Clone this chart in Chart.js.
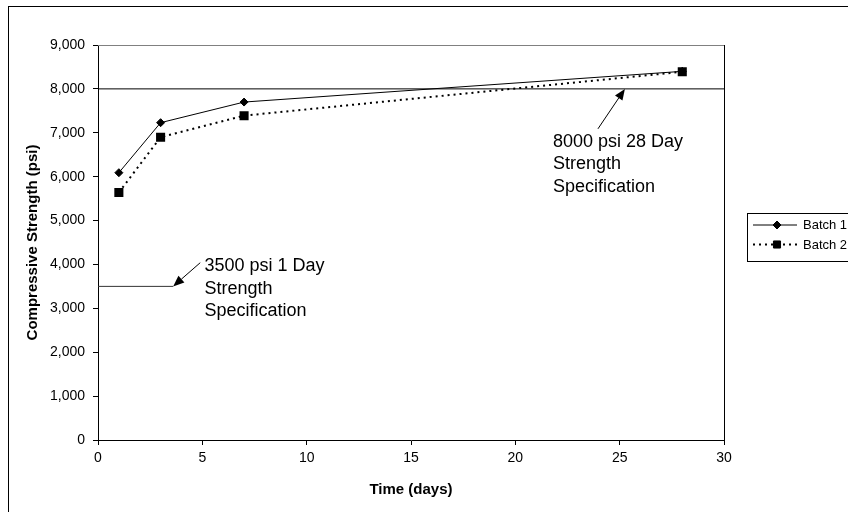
<!DOCTYPE html>
<html>
<head>
<meta charset="utf-8">
<script src="https://cdn.jsdelivr.net/npm/chart.js@4/dist/chart.umd.min.js"></script>
<style>
  html, body { margin: 0; padding: 0; background: #fff; }
  #wrap { width: 848px; height: 512px; position: relative; }
</style>
</head>
<body>
<div id="wrap"><canvas id="c" width="848" height="512"></canvas></div>
<script>
// ---- Data ----
const days = [1, 3, 7, 28];
const batch1 = [6090, 7230, 7700, 8400];
const batch2 = [5640, 6900, 7390, 8390];
const seriesNames = ['Batch 1', 'Batch 2'];
const xTicks = [0, 5, 10, 15, 20, 25, 30];
const yTicks = [0, 1000, 2000, 3000, 4000, 5000, 6000, 7000, 8000, 9000];
const spec1DayX = [0, 3.6];
const spec1DayY = [3500, 3500];
const spec28DayX = [0, 30];
const spec28DayY = [8000, 8000];
const spec1DayText = ['3500 psi 1 Day', 'Strength', 'Specification'];
const spec28DayText = ['8000 psi 28 Day', 'Strength', 'Specification'];

const FONT = "'Liberation Sans', Arial, sans-serif";

function pts(xs, ys) { return xs.map((x, i) => ({ x: x, y: ys[i] })); }

// annotation anchors (data coordinates)
const annotations = [
  { lines: spec1DayText, textX: 5.1, textY: 3960, tail: [4.9, 4040], tip: [3.6, 3500] },
  { lines: spec28DayText, textX: 21.8, textY: 6790, tail: [23.96, 7090], tip: [25.25, 8000] }
];

function drawArrow(ctx, x1, y1, x2, y2) {
  const ang = Math.atan2(y2 - y1, x2 - x1);
  const len = 11, half = 4.5;
  const bx = x2 - len * Math.cos(ang), by = y2 - len * Math.sin(ang);
  ctx.beginPath();
  ctx.moveTo(x1, y1);
  ctx.lineTo(bx, by);
  ctx.strokeStyle = '#000';
  ctx.lineWidth = 1;
  ctx.stroke();
  ctx.beginPath();
  ctx.moveTo(x2, y2);
  ctx.lineTo(bx + half * Math.sin(ang), by - half * Math.cos(ang));
  ctx.lineTo(bx - half * Math.sin(ang), by + half * Math.cos(ang));
  ctx.closePath();
  ctx.fillStyle = '#000';
  ctx.fill();
}

const decor = {
  id: 'decor',
  beforeDraw(chart) {
    const ctx = chart.ctx;
    ctx.save();
    ctx.fillStyle = '#fff';
    ctx.fillRect(0, 0, chart.width, chart.height);
    // outer chart border
    ctx.strokeStyle = '#000';
    ctx.lineWidth = 1;
    ctx.strokeRect(8.5, 6.5, chart.width + 20, chart.height + 20);
    ctx.restore();
  },
  afterDatasetsDraw(chart) {
    const ctx = chart.ctx;
    const a = chart.chartArea;
    const xs = chart.scales.x, ys = chart.scales.y;
    ctx.save();
    // plot area border (top, right)
    ctx.lineWidth = 1;
    ctx.strokeStyle = '#808080';
    ctx.beginPath();
    ctx.moveTo(a.left, Math.round(a.top) + 0.5);
    ctx.lineTo(a.right, Math.round(a.top) + 0.5);
    ctx.stroke();
    ctx.strokeStyle = '#000';
    ctx.beginPath();
    ctx.moveTo(Math.round(a.right) + 0.5, a.top);
    ctx.lineTo(Math.round(a.right) + 0.5, a.bottom);
    ctx.stroke();

    // annotations
    ctx.font = '18px ' + FONT;
    ctx.fillStyle = '#000';
    ctx.textAlign = 'left';
    ctx.textBaseline = 'middle';
    annotations.forEach(an => {
      const tx = xs.getPixelForValue(an.textX);
      const ty = ys.getPixelForValue(an.textY);
      an.lines.forEach((l, i) => ctx.fillText(l, tx, ty + i * 22.5));
      drawArrow(ctx, xs.getPixelForValue(an.tail[0]), ys.getPixelForValue(an.tail[1]),
                xs.getPixelForValue(an.tip[0]), ys.getPixelForValue(an.tip[1]));
    });

    // legend
    const lx = 747.5, ly = 213.5, lh = 48;
    ctx.strokeStyle = '#000';
    ctx.lineWidth = 1;
    ctx.strokeRect(lx, ly, 200, lh);
    ctx.font = '13px ' + FONT;
    ctx.textBaseline = 'middle';
    [0, 1].forEach(i => {
      const ds = chart.data.datasets[i];
      const y = 225 + i * 19.5;
      ctx.save();
      ctx.strokeStyle = ds.borderColor;
      ctx.lineWidth = ds.borderWidth;
      ctx.setLineDash(ds.borderDash || []);
      ctx.beginPath();
      ctx.moveTo(753, y);
      ctx.lineTo(797, y);
      ctx.stroke();
      ctx.restore();
      Chart.helpers.drawPoint(ctx, {
        pointStyle: ds.pointStyle, radius: ds.pointRadius, borderWidth: 1, rotation: 0
      }, 777, y);
      ctx.fillStyle = '#000';
      ctx.fillText(ds.label, 803, y + 0.5);
    });
    ctx.restore();
  }
};

new Chart(document.getElementById('c'), {
  type: 'scatter',
  data: {
    datasets: [
      {
        label: seriesNames[0], data: pts(days, batch1), showLine: true,
        borderColor: '#000', backgroundColor: '#000', borderWidth: 1,
        pointStyle: 'rectRot', pointRadius: 4, pointBackgroundColor: '#000', pointBorderColor: '#000'
      },
      {
        label: seriesNames[1], data: pts(days, batch2), showLine: true,
        borderColor: '#000', backgroundColor: '#000', borderWidth: 2, borderDash: [2, 4],
        pointStyle: 'rect', pointRadius: 5, pointBackgroundColor: '#000', pointBorderColor: '#000'
      },
      {
        label: 'spec1', data: pts(spec1DayX, spec1DayY), showLine: true,
        borderColor: '#333', borderWidth: 1, pointRadius: 0
      },
      {
        label: 'spec28', data: pts(spec28DayX, spec28DayY), showLine: true,
        borderColor: '#000', borderWidth: 1, pointRadius: 0
      }
    ]
  },
  options: {
    responsive: false,
    animation: false,
    layout: { padding: { top: 45, right: 124, left: 0, bottom: 0 } },
    plugins: { legend: { display: false }, tooltip: { enabled: false } },
    scales: {
      x: {
        type: 'linear', min: 0, max: 30,
        afterFit(s) { s.height = 72; },
        afterBuildTicks(s) { s.ticks = xTicks.map(v => ({ value: v })); },
        grid: { drawOnChartArea: false, drawTicks: true, tickLength: 5, color: '#000' },
        border: { color: '#000', width: 1 },
        ticks: { color: '#000', padding: 5, font: { family: FONT, size: 14 }, maxRotation: 0 },
        title: { display: true, text: 'Time (days)', color: '#000',
                 font: { family: FONT, size: 15, weight: 'bold' }, padding: { top: 0, bottom: 13 } }
      },
      y: {
        type: 'linear', min: 0, max: 9000,
        afterFit(s) { s.width = 98; },
        afterBuildTicks(s) { s.ticks = yTicks.map(v => ({ value: v })); },
        grid: { drawOnChartArea: false, drawTicks: true, tickLength: 5, color: '#000' },
        border: { color: '#000', width: 1 },
        ticks: { color: '#000', padding: 8, font: { family: FONT, size: 14 },
                 callback: v => v.toLocaleString('en-US') },
        title: { display: true, text: 'Compressive Strength (psi)', color: '#000',
                 font: { family: FONT, size: 15, weight: 'bold' }, padding: { top: 24, bottom: 0 } }
      }
    }
  },
  plugins: [decor]
});
</script>
</body>
</html>
